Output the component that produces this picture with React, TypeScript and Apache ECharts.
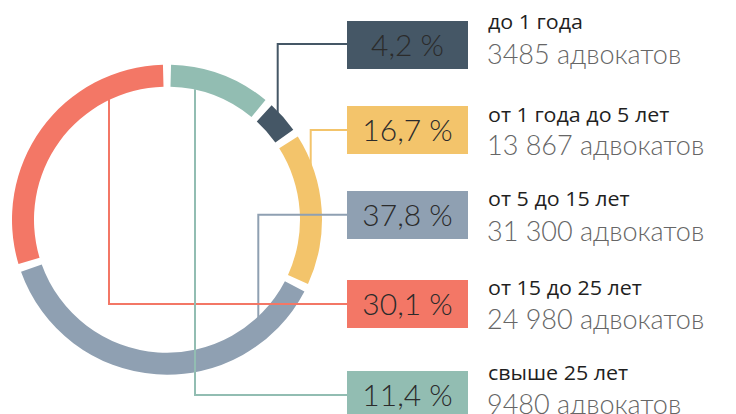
import React, { useEffect, useRef } from "react";
import * as echarts from "echarts";

// Legend rows (top to bottom)
const categories = ["до 1 года", "от 1 года до 5 лет", "от 5 до 15 лет", "от 15 до 25 лет", "свыше 25 лет"];
const percents = [4.2, 16.7, 37.8, 30.1, 11.4];
const percentLabels = ["4,2 %", "16,7 %", "37,8 %", "30,1 %", "11,4 %"];
const counts = ["3485", "13 867", "31 300", "24 980", "9480"];
const colors = ["#455766", "#f3c46b", "#8fa0b2", "#f37766", "#92bdb2"];
// order of segments around the ring, clockwise from the top
const ringOrder = [4, 0, 1, 2, 3];

// layout (pixels)
const CX = 167;
const CY = 219.7;
const BOX_X = 347;
const BOX_W = 121;
const BOX_H = 48;
const boxTops = [21, 106, 191, 280, 371];
const titleY = [21, 114, 198.5, 287.5, 372.5];
const subY = [53.5, 144.5, 230.5, 318.5, 403.5];
const leaders: number[][][] = [
  [[277.7, 118], [277.7, 44], [BOX_X, 44]],
  [[310.7, 165], [310.7, 130], [BOX_X, 130]],
  [[258.3, 318.3], [258.3, 214.7], [BOX_X, 214.7]],
  [[109, 99.3], [109, 304], [BOX_X, 304]],
  [[195, 89.3], [195, 395], [BOX_X, 395]],
];

export default function App() {
  const ref = useRef<HTMLDivElement>(null);
  useEffect(() => {
    if (!ref.current) return;
    const chart = echarts.init(ref.current, null, { renderer: "svg" });
    const graphics: any[] = [];
    categories.forEach((cat, i) => {
      graphics.push({
        type: "polyline",
        z: 10,
        shape: { points: leaders[i] },
        style: { stroke: colors[i], lineWidth: 2, fill: null },
      });
      graphics.push({
        type: "rect",
        z: 10,
        shape: { x: BOX_X, y: boxTops[i], width: BOX_W, height: BOX_H },
        style: { fill: colors[i] },
      });
      graphics.push({
        type: "text",
        z: 11,
        x: BOX_X + BOX_W / 2,
        y: boxTops[i] + BOX_H / 2 - 1.5,
        style: {
          text: percentLabels[i],
          fill: "#2b2b2b",
          font: "300 30px Lato, Inter, sans-serif",
          align: "center",
          verticalAlign: "middle",
        },
      });
      graphics.push({
        type: "text",
        z: 11,
        x: 488,
        y: titleY[i],
        scaleX: 1.1,
        style: {
          text: cat,
          fill: "#1f1f1f",
          font: "500 19.5px 'Open Sans', sans-serif",
          align: "left",
          verticalAlign: "middle",
        },
      });
      graphics.push({
        type: "text",
        z: 11,
        x: 487,
        y: subY[i],
        style: {
          text: counts[i] + " адвокатов",
          fill: "#666666",
          font: "300 27px Lato, Inter, sans-serif",
          align: "left",
          verticalAlign: "middle",
        },
      });
    });

    chart.setOption({
      animation: false,
      series: [
        {
          type: "pie",
          center: [CX, CY],
          radius: [133, 155],
          startAngle: 90,
          clockwise: true,
          padAngle: 3,
          label: { show: false },
          labelLine: { show: false },
          emphasis: { disabled: true },
          silent: true,
          data: ringOrder.map((i) => ({
            name: categories[i],
            value: percents[i],
            itemStyle: { color: colors[i] },
          })),
        },
      ],
      graphic: graphics,
    });
    return () => chart.dispose();
  }, []);
  return (
    <div
      ref={ref}
      style={{ position: "fixed", left: 0, top: 0, width: 736, height: 414, background: "#fff" }}
    />
  );
}
